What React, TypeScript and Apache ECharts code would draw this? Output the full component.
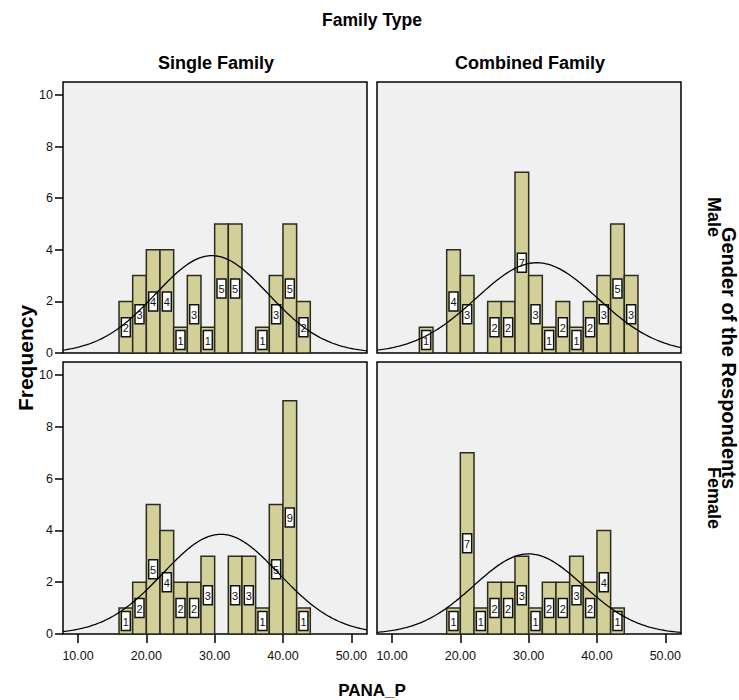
import React, { useEffect, useRef } from 'react';
import * as echarts from 'echarts';

// Histogram bins (lower edges, width 2) shared by all panels
const binLower = [14, 16, 18, 20, 22, 24, 26, 28, 30, 32, 34, 36, 38, 40, 42, 44];
const binWidth = 2;

// Frequencies per panel (aligned with binLower)
const singleMale = [0, 2, 3, 4, 4, 1, 3, 1, 5, 5, 0, 1, 3, 5, 2, 0];
const combinedMale = [1, 0, 4, 3, 0, 2, 2, 7, 3, 1, 2, 1, 2, 3, 5, 3];
const singleFemale = [0, 1, 2, 5, 4, 2, 2, 3, 0, 3, 3, 1, 5, 9, 1, 0];
const combinedFemale = [0, 0, 1, 7, 1, 2, 2, 3, 1, 2, 2, 3, 2, 4, 1, 0];

// Normal-curve parameters: [mean, sd, n]
const normalSingleMale = [29.6, 8.25, 39];
const normalCombinedMale = [31.2, 8.9, 39];
const normalSingleFemale = [30.9, 8.5, 41];
const normalCombinedFemale = [30.0, 8.0, 31];

// Axis ticks
const xTicks = [10, 20, 30, 40, 50];
const yTicks = [0, 2, 4, 6, 8, 10];

const columnTitles = ['Single Family', 'Combined Family'];
const rowTitles = ['Male', 'Female'];

const SANS = "'Liberation Sans', Arial, sans-serif";

export default function App() {
  const ref = useRef<HTMLDivElement>(null);

  useEffect(() => {
    if (!ref.current) return;
    const chart = echarts.init(ref.current, undefined, { renderer: 'svg' });

    const panels = [
      { counts: singleMale, normal: normalSingleMale },
      { counts: combinedMale, normal: normalCombinedMale },
      { counts: singleFemale, normal: normalSingleFemale },
      { counts: combinedFemale, normal: normalCombinedFemale },
    ];
    const xMin = 7.8;
    const xMax = 52.3;
    const yMax = 10.5;

    const grids = [
      { left: 63, top: 82, width: 304, height: 271 },
      { left: 377, top: 82, width: 304, height: 271 },
      { left: 63, top: 362, width: 304, height: 272 },
      { left: 377, top: 362, width: 304, height: 272 },
    ].map((g) => ({
      ...g,
      show: true,
      backgroundColor: '#f0f0f0',
      borderColor: '#000',
      borderWidth: 1.5,
    }));

    const xAxes = grids.map((_, i) => {
      const bottom = i >= 2;
      return {
        type: 'value',
        gridIndex: i,
        min: xMin,
        max: xMax,
        splitLine: { show: false },
        axisLine: { show: false },
        axisTick: {
          show: bottom,
          customValues: xTicks,
          length: 9,
          lineStyle: { color: '#000', width: 1.5 },
        },
        axisLabel: {
          show: bottom,
          customValues: xTicks,
          formatter: (v: number) => v.toFixed(2),
          fontFamily: SANS,
          fontSize: 12.5,
          color: '#111',
          margin: 15,
        },
      };
    });

    const yAxes = grids.map((_, i) => {
      const left = i % 2 === 0;
      return {
        type: 'value',
        gridIndex: i,
        min: 0,
        max: yMax,
        splitLine: { show: false },
        axisLine: { show: false },
        axisTick: {
          show: left,
          customValues: yTicks,
          length: 8,
          lineStyle: { color: '#000', width: 1.5 },
        },
        axisLabel: {
          show: left,
          customValues: yTicks,
          fontFamily: SANS,
          fontSize: 12.5,
          color: '#111',
          margin: 10,
        },
      };
    });

    const series: any[] = [];
    panels.forEach((p, i) => {
      const data = binLower
        .map((lo, k) => [lo, lo + binWidth, p.counts[k]])
        .filter((d) => d[2] > 0);
      series.push({
        type: 'custom',
        xAxisIndex: i,
        yAxisIndex: i,
        data,
        z: 2,
        renderItem: (_params: any, api: any) => {
          const lo = api.value(0);
          const hi = api.value(1);
          const c = api.value(2);
          const p0 = api.coord([lo, 0]);
          const p1 = api.coord([hi, c]);
          const cx = (p0[0] + p1[0]) / 2;
          const cy = (p0[1] + p1[1]) / 2;
          return {
            type: 'group',
            children: [
              {
                type: 'rect',
                shape: { x: p0[0], y: p1[1], width: p1[0] - p0[0], height: p0[1] - p1[1] },
                style: { fill: '#d3cf98', stroke: '#2b2b20', lineWidth: 1.5 },
              },
              {
                type: 'rect',
                shape: { x: cx - 4.5, y: cy - 9.5, width: 9, height: 19 },
                style: { fill: '#ffffff', stroke: '#111', lineWidth: 1.5 },
              },
              {
                type: 'text',
                x: cx,
                y: cy + 0.5,
                style: {
                  text: String(c),
                  fill: '#111',
                  font: `11px ${SANS}`,
                  align: 'center',
                  verticalAlign: 'middle',
                },
              },
            ],
          };
        },
      });

      const [mu, sd, n] = p.normal;
      const pts: number[][] = [];
      for (let x = xMin; x <= xMax + 1e-9; x += 0.25) {
        const z = (x - mu) / sd;
        pts.push([x, (n * binWidth * Math.exp(-0.5 * z * z)) / (sd * Math.sqrt(2 * Math.PI))]);
      }
      series.push({
        type: 'line',
        xAxisIndex: i,
        yAxisIndex: i,
        data: pts,
        showSymbol: false,
        symbol: 'none',
        z: 5,
        lineStyle: { color: '#000', width: 1.3 },
        silent: true,
      });
    });

    const option = {
      animation: false,
      backgroundColor: '#ffffff',
      grid: grids,
      xAxis: xAxes,
      yAxis: yAxes,
      series,
      graphic: [
        {
          type: 'text',
          x: 372,
          y: 20,
          style: { text: 'Family Type', font: `bold 17.5px ${SANS}`, fill: '#000', align: 'center', verticalAlign: 'middle' },
        },
        {
          type: 'text',
          x: 216,
          y: 63,
          style: { text: columnTitles[0], font: `bold 18px ${SANS}`, fill: '#000', align: 'center', verticalAlign: 'middle' },
        },
        {
          type: 'text',
          x: 530,
          y: 63,
          style: { text: columnTitles[1], font: `bold 18px ${SANS}`, fill: '#000', align: 'center', verticalAlign: 'middle' },
        },
        {
          type: 'text',
          x: 714,
          y: 217,
          rotation: -Math.PI / 2,
          style: { text: rowTitles[0], font: `bold 18px ${SANS}`, fill: '#000', align: 'center', verticalAlign: 'middle' },
        },
        {
          type: 'text',
          x: 714,
          y: 498,
          rotation: -Math.PI / 2,
          style: { text: rowTitles[1], font: `bold 18px ${SANS}`, fill: '#000', align: 'center', verticalAlign: 'middle' },
        },
        {
          type: 'text',
          x: 729,
          y: 358,
          rotation: -Math.PI / 2,
          style: { text: 'Gender of the Respondents', font: `bold 20px ${SANS}`, fill: '#000', align: 'center', verticalAlign: 'middle' },
        },
        {
          type: 'text',
          x: 25,
          y: 358,
          rotation: Math.PI / 2,
          style: { text: 'Frequency', font: `bold 21px ${SANS}`, fill: '#000', align: 'center', verticalAlign: 'middle' },
        },
        {
          type: 'text',
          x: 372,
          y: 690,
          style: { text: 'PANA_P', font: `bold 17px ${SANS}`, fill: '#000', align: 'center', verticalAlign: 'middle' },
        },
      ],
    };

    chart.setOption(option as any);
    return () => chart.dispose();
  }, []);

  return (
    <div
      ref={ref}
      style={{ position: 'absolute', left: 0, top: 0, width: 739, height: 700 }}
    />
  );
}
